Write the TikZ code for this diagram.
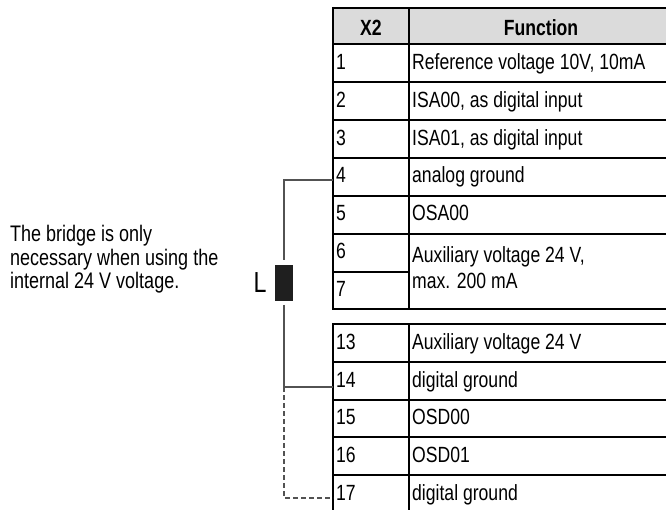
\documentclass[tikz,border=0pt]{standalone}
\usepackage{fontspec}
\setmainfont{Liberation Sans}[FakeStretch=0.8]
\begin{document}
\begin{tikzpicture}[x=1pt,y=-1pt,
  cell/.style={anchor=base west,inner sep=0pt,font=\fontsize{22}{25}\selectfont},
  head/.style={anchor=base,inner sep=0pt,font=\fontsize{22}{25}\selectfont\bfseries},
  note/.style={anchor=base west,inner sep=0pt,font=\fontsize{22.5}{23}\selectfont},
  rule/.style={line width=2.1pt,black},
  wire/.style={line width=1.1pt,black!68},
  dwire/.style={wire,dash pattern=on 5pt off 3pt}]
\useasboundingbox (0,0) rectangle (666,510);
% header
\fill[black!14] (333,8) rectangle (672,44);
% table 1 lines
\draw[line width=2.4pt] (332,8) -- (672,8);
\foreach \y in {44,82,120,158,196,234,309}{\draw[rule] (333,\y) -- (672,\y);}
\draw[rule] (333,272) -- (409,272);
\draw[line width=1.5pt] (333,7) -- (333,310);
\draw[rule] (409,8) -- (409,310);
% table 2 lines
\foreach \y in {324,362,400,437,475}{\draw[rule] (333,\y) -- (672,\y);}
\draw[line width=1.5pt] (333,323) -- (333,515);
\draw[rule] (409,323) -- (409,515);
% header text
\node[head] (hx) at (371,36) {X2};
\node[head] (hf) at (541,36) {Function};
% rows table 1
\node[cell] (n1) at (336,69.5) {1};   \node[cell] (f1) at (412,69.5) {Reference voltage 10V, 10mA};
\node[cell] (n2) at (336,107.5) {2};  \node[cell] (f2) at (412,107.5) {ISA00, as digital input};
\node[cell] (n3) at (336,145.5) {3};  \node[cell] (f3) at (412,145.5) {ISA01, as digital input};
\node[cell] (n4) at (336,182.5) {4};  \node[cell] (f4) at (412,182.5) {analog ground};
\node[cell] (n5) at (336,220.5) {5};  \node[cell] (f5) at (412,220.5) {OSA00};
\node[cell] (n6) at (336,259) {6};
\node[cell] (n7) at (336,297) {7};
\node[cell] (f6) at (412,262.5) {Auxiliary voltage 24 V,};
\node[cell] (f7) at (412,288.5) {max. 200 mA};
% rows table 2
\node[cell] (n13) at (336,349) {13}; \node[cell] (f13) at (412,349) {Auxiliary voltage 24 V};
\node[cell] (n14) at (336,387) {14}; \node[cell] (f14) at (412,387) {digital ground};
\node[cell] (n15) at (336,424.5) {15}; \node[cell] (f15) at (412,424.5) {OSD00};
\node[cell] (n16) at (336,462) {16}; \node[cell] (f16) at (412,462) {OSD01};
\node[cell] (n17) at (336,500) {17}; \node[cell] (f17) at (412,500) {digital ground};
% note text
\node[note] (t1) at (10,242) {The bridge is only};
\node[note] (t2) at (10,265.5) {necessary when using the};
\node[note] (t3) at (10,289) {internal 24 V voltage.};
% bridge
\node[draw=none,fill=black!88,minimum width=18pt,minimum height=36pt,inner sep=0pt] (br) at (284,283) {};
\node[anchor=base,inner sep=0pt,font=\fontsize{29}{30}\selectfont] (L) at (260,293) {L};
\coordinate (p4) at (333,180);
\coordinate (p14) at (333,387);
\coordinate (p17) at (333,498);
\coordinate (bt) at (284,260);
\coordinate (bb) at (284,305);
\coordinate (j14) at (284,387);
\draw[wire] (p4) -| (bt);
\draw[wire] (bb) |- (p14);
\draw[dwire] (j14) |- (p17);
\end{tikzpicture}
\end{document}
